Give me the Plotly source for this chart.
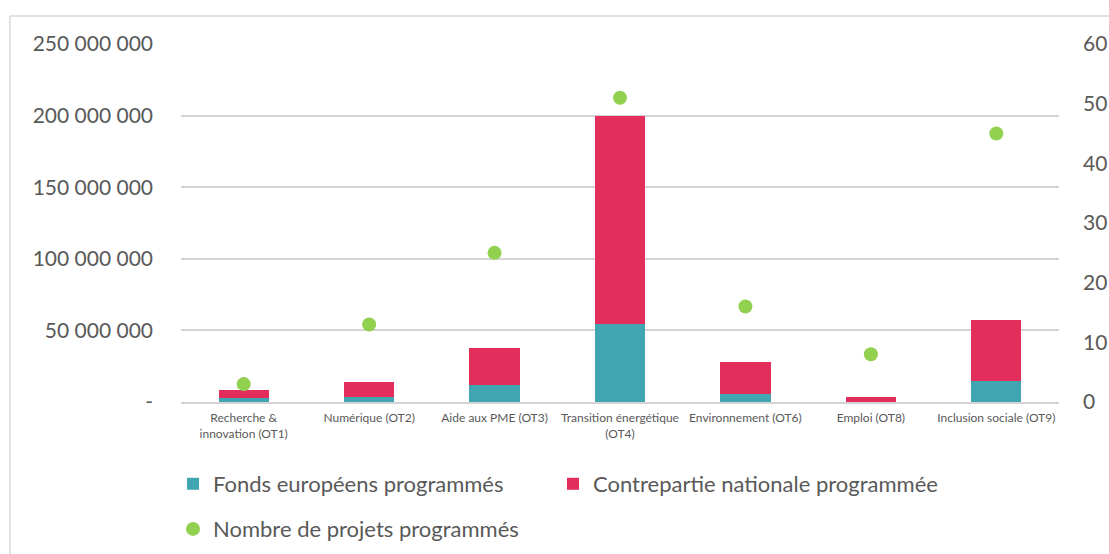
import plotly.graph_objects as go

categories = ["Recherche &<br>innovation (OT1)", "Numérique (OT2)", "Aide aux PME (OT3)",
              "Transition énergétique<br>(OT4)", "Environnement (OT6)", "Emploi (OT8)",
              "Inclusion sociale (OT9)"]
fonds_europeens = [2.8e6, 3.7e6, 11.7e6, 54.5e6, 5.4e6, 0.3e6, 14.9e6]
contrepartie = [5.6e6, 10.5e6, 25.8e6, 145.5e6, 22.6e6, 3.0e6, 42.1e6]
nb_projets = [3, 13, 25, 51, 16, 8, 45]

left_ticks = [0, 50e6, 100e6, 150e6, 200e6, 250e6]
left_labels = ["-", "50 000 000", "100 000 000", "150 000 000", "200 000 000", "250 000 000"]
right_ticks = [0, 10, 20, 30, 40, 50, 60]

TEXT = "#595959"
FONT = "Lato"

fig = go.Figure()
fig.add_trace(go.Bar(x=categories, y=fonds_europeens, name="Fonds européens programmés",
                     marker=dict(color="#42A6B2", line=dict(width=0)), legend="legend"))
fig.add_trace(go.Bar(x=categories, y=contrepartie, name="Contrepartie nationale programmée",
                     marker=dict(color="#E32D5A", line=dict(width=0)), legend="legend2"))
fig.add_trace(go.Scatter(x=categories, y=nb_projets, name="Nombre de projets programmés",
                         mode="markers", yaxis="y2", legend="legend3",
                         marker=dict(color="#92D050", size=14, line=dict(width=0))))

leg = dict(orientation="h", xanchor="left", yanchor="middle",
           font=dict(size=22, color=TEXT), bgcolor="rgba(0,0,0,0)")

fig.update_layout(
    width=1109, height=554,
    barmode="stack", bargap=0.6,
    plot_bgcolor="white", paper_bgcolor="white",
    margin=dict(l=181, r=50, t=44, b=152, autoexpand=False),
    font=dict(family=FONT, color=TEXT),
    xaxis=dict(showgrid=False, tickfont=dict(size=12, color=TEXT), showline=True,
               linecolor="#D4D4D4", linewidth=2, ticks="", automargin=False,
               ticklabelstandoff=4),
    yaxis=dict(range=[0, 250e6], tickvals=left_ticks, ticktext=left_labels,
               showgrid=True, gridcolor="#D4D4D4", gridwidth=1.5, zeroline=False,
               tickfont=dict(size=21, color=TEXT), ticklabelstandoff=27, automargin=False),
    yaxis2=dict(range=[0, 60], tickvals=right_ticks, overlaying="y", side="right",
                showgrid=False, zeroline=False, tickfont=dict(size=21, color=TEXT),
                ticklabelstandoff=23, automargin=False),
    legend=dict(leg, x=-0.0091, y=-0.229),
    legend2=dict(leg, x=0.4237, y=-0.229),
    legend3=dict(leg, x=-0.0091, y=-0.355),
    showlegend=True,
)

fig.add_shape(type="line", xref="paper", yref="paper", x0=-0.1948, x1=1.2, y0=1.078, y1=1.078,
              line=dict(color="#D9D9D9", width=1.5))
fig.add_shape(type="line", xref="paper", yref="paper", x0=-0.1948, x1=-0.1948, y0=1.078, y1=-0.6,
              line=dict(color="#D9D9D9", width=1.5))

fig.write_html(
    "out.html",
    config={"displayModeBar": False},
    post_script=("document.body.style.margin='0';"
                 "document.documentElement.style.overflow='hidden';"
                 "document.body.style.overflow='hidden';"),
)
